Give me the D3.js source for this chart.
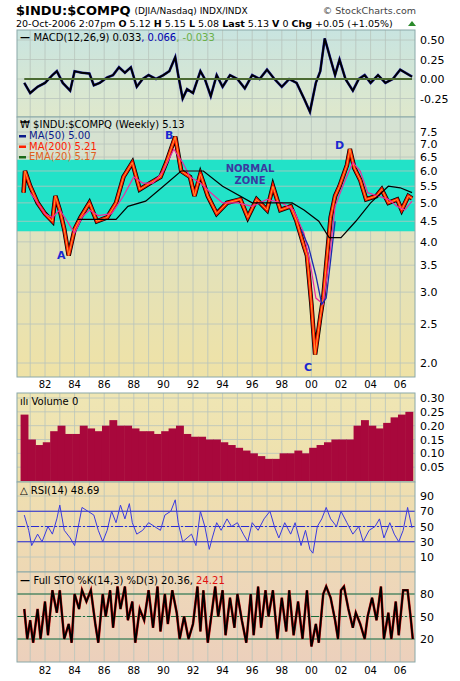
<!DOCTYPE html><html><head><script src="https://cdn.jsdelivr.net/npm/d3@7"></script>
<style>body{margin:0;background:#fff}svg{font-family:Verdana,"DejaVu Sans",sans-serif}</style></head><body><svg id="c" width="460" height="681"></svg><script>
const yearTicks=["82","84","86","88","90","92","94","96","98","00","02","04","06"];
const price=[[1980.55,5.3],[1980.65,6.0],[1981.0,5.5],[1981.5,5.0],[1982.0,4.7],[1982.5,4.5],[1982.7,5.2],[1983.0,4.8],[1983.3,4.3],[1983.6,3.7],[1984.0,4.3],[1984.4,4.6],[1985.0,5.0],[1985.5,4.5],[1986.2,4.6],[1986.8,5.0],[1987.3,5.8],[1987.9,6.3],[1988.4,5.4],[1989.1,5.6],[1989.8,5.8],[1990.2,6.3],[1990.8,7.3],[1991.2,6.0],[1991.8,5.8],[1992.1,5.2],[1992.5,5.9],[1993.0,5.2],[1993.6,4.7],[1994.3,5.0],[1995.2,5.1],[1995.7,4.6],[1996.3,5.1],[1997.0,4.8],[1997.4,5.5],[1997.9,4.8],[1998.6,4.9],[1999.0,4.5],[1999.5,3.9],[1999.7,3.7],[2000.0,2.8],[2000.25,2.1],[2000.6,2.6],[2000.8,2.9],[2001.0,3.5],[2001.3,4.6],[2001.6,5.2],[2001.9,5.5],[2002.4,6.2],[2002.6,6.8],[2002.9,6.1],[2003.3,5.7],[2003.7,5.1],[2004.4,5.2],[2004.75,5.4],[2005.2,5.0],[2005.8,5.1],[2006.1,4.8],[2006.55,5.2],[2006.8,5.13]];
const maLong=[[1984.2,4.55],[1986.8,4.55],[1987.6,4.9],[1988.8,5.05],[1990.0,5.5],[1991.2,6.0],[1992.7,6.0],[1994.0,5.5],[1996.0,5.0],[1998.7,5.0],[1999.5,4.8],[2000.5,4.5],[2001.2,4.1],[2002.0,4.1],[2003.0,4.5],[2004.0,5.0],[2005.2,5.5],[2006.0,5.45],[2006.8,5.3]];
const maMid=[[1981.0,5.3],[1981.5,5.0],[1982.0,4.7],[1982.5,4.6],[1983.0,4.8],[1983.5,4.5],[1984.0,4.2],[1984.5,4.6],[1985.0,4.8],[1985.6,4.65],[1986.5,4.7],[1987.3,5.2],[1988.0,5.8],[1988.6,5.6],[1989.3,5.6],[1990.0,6.0],[1990.7,6.8],[1991.3,6.3],[1991.8,5.8],[1992.5,5.6],[1993.2,5.3],[1994.0,5.0],[1995.0,5.0],[1996.0,4.9],[1997.0,5.1],[1998.0,5.0],[1998.8,4.8],[1999.5,4.2],[2000.0,3.4],[2000.3,2.9],[2000.8,2.8],[2001.2,3.6],[2001.6,4.9],[2002.2,5.6],[2002.8,6.3],[2003.3,6.0],[2003.8,5.3],[2004.5,5.2],[2005.2,5.1],[2005.8,4.9],[2006.3,4.8],[2006.8,5.05]];
const maBlue=[[1999.3,4.3],[1999.8,3.9],[2000.3,3.3],[2000.7,2.8],[2001.0,2.9],[2001.3,3.6],[2001.6,4.5]];
const macd=[[1980.6,-0.05],[1981.0,-0.18],[1981.5,-0.1],[1982,-0.05],[1982.5,0.05],[1982.8,0.1],[1983.2,-0.05],[1983.7,-0.15],[1984,0.1],[1984.5,0.08],[1985,0.07],[1985.3,-0.08],[1985.7,-0.05],[1986.2,0.02],[1986.6,0.05],[1987.0,0.15],[1987.4,0.08],[1987.8,0.15],[1988.2,-0.1],[1988.6,0.0],[1989,0.05],[1989.5,0.0],[1990,0.05],[1990.4,0.1],[1990.8,0.28],[1991.0,0.05],[1991.3,-0.25],[1991.6,-0.13],[1992.0,-0.18],[1992.5,0.1],[1992.8,0.0],[1993.2,-0.22],[1993.6,0.05],[1994,-0.1],[1994.5,0.05],[1995,0.0],[1995.5,-0.12],[1996,0.05],[1996.5,0.0],[1997,0.12],[1997.5,0.0],[1998,-0.1],[1998.5,0.0],[1999,-0.05],[1999.5,-0.25],[1999.9,-0.42],[2000.3,-0.05],[2000.6,0.1],[2000.9,0.52],[2001.3,0.25],[2001.6,0.05],[2001.9,0.25],[2002.3,0.0],[2002.8,-0.15],[2003.2,0.0],[2003.6,0.05],[2004,-0.05],[2004.5,0.05],[2005,-0.05],[2005.5,0.0],[2006,0.12],[2006.8,0.03]];
const volume=[0.24,0.15,0.13,0.14,0.18,0.2,0.17,0.17,0.2,0.19,0.18,0.2,0.22,0.2,0.2,0.19,0.18,0.18,0.17,0.18,0.19,0.2,0.17,0.16,0.16,0.15,0.15,0.14,0.13,0.12,0.11,0.1,0.09,0.08,0.08,0.1,0.1,0.11,0.1,0.12,0.13,0.14,0.15,0.15,0.15,0.2,0.22,0.2,0.19,0.21,0.23,0.24,0.25];
const rsi=[[1980.6,65],[1980.9,45],[1981.1,25],[1981.5,40],[1981.8,30],[1982.2,50],[1982.5,40],[1982.8,60],[1983.0,78],[1983.3,45],[1983.7,35],[1984.0,25],[1984.3,55],[1984.5,75],[1984.9,70],[1985.3,65],[1985.6,45],[1985.9,30],[1986.2,45],[1986.5,70],[1986.8,55],[1987.1,78],[1987.4,60],[1987.7,80],[1987.9,55],[1988.2,40],[1988.6,45],[1989.0,55],[1989.4,50],[1989.8,45],[1990.1,65],[1990.5,70],[1990.8,85],[1991.0,55],[1991.3,30],[1991.6,35],[1991.9,40],[1992.2,25],[1992.5,70],[1992.8,50],[1993.1,20],[1993.3,35],[1993.6,55],[1993.9,45],[1994.3,60],[1994.6,50],[1995.0,55],[1995.4,40],[1995.7,30],[1996.0,55],[1996.4,45],[1996.8,60],[1997.2,70],[1997.5,50],[1997.8,35],[1998.2,55],[1998.6,40],[1998.9,55],[1999.3,25],[1999.6,45],[1999.9,20],[2000.1,15],[2000.4,50],[2000.7,60],[2001.0,75],[2001.3,60],[2001.7,50],[2002.0,70],[2002.4,55],[2002.8,40],[2003.2,50],[2003.5,30],[2003.9,45],[2004.3,50],[2004.6,60],[2004.9,35],[2005.3,55],[2005.6,40],[2005.9,30],[2006.2,45],[2006.5,75],[2006.8,48]];
const sto=[[1980.6,60],[1980.8,20],[1981.0,45],[1981.2,15],[1981.5,60],[1981.7,20],[1982.0,70],[1982.2,25],[1982.5,85],[1982.8,55],[1983.0,85],[1983.3,20],[1983.6,40],[1983.8,15],[1984.0,80],[1984.3,60],[1984.5,85],[1984.8,70],[1985.1,85],[1985.4,40],[1985.6,15],[1985.9,80],[1986.1,50],[1986.4,85],[1986.6,35],[1986.9,90],[1987.1,60],[1987.4,90],[1987.6,45],[1987.9,70],[1988.1,15],[1988.4,60],[1988.7,45],[1989.0,85],[1989.3,35],[1989.6,90],[1989.8,30],[1990.1,80],[1990.3,40],[1990.6,85],[1990.9,55],[1991.1,20],[1991.4,50],[1991.7,20],[1992.0,40],[1992.3,90],[1992.5,30],[1992.7,85],[1993.0,15],[1993.2,45],[1993.5,90],[1993.7,50],[1994.0,85],[1994.2,25],[1994.5,75],[1994.8,35],[1995.0,80],[1995.3,45],[1995.6,15],[1995.9,80],[1996.1,25],[1996.4,90],[1996.6,35],[1996.9,85],[1997.1,50],[1997.4,85],[1997.7,20],[1998.0,75],[1998.3,30],[1998.5,85],[1998.8,25],[1999.1,70],[1999.4,20],[1999.7,85],[2000.0,10],[2000.3,40],[2000.5,15],[2000.8,80],[2001.0,90],[2001.3,75],[2001.6,45],[2001.8,20],[2002.0,85],[2002.2,90],[2002.5,60],[2002.8,35],[2003.0,55],[2003.3,40],[2003.6,20],[2003.8,50],[2004.1,75],[2004.4,45],[2004.7,90],[2004.9,20],[2005.2,55],[2005.4,20],[2005.7,70],[2005.9,25],[2006.2,85],[2006.5,85],[2006.7,50],[2006.85,20]];

const svg=d3.select("#c");
const L=17,R=415;
const x=d3.scaleLinear([1980,2007],[15.4,415]);
const defs=svg.append("defs");
function grad(id,c1,c2){const g=defs.append("linearGradient").attr("id",id).attr("x1",0).attr("y1",0).attr("x2",0).attr("y2",1);g.append("stop").attr("offset",0).attr("stop-color",c1);g.append("stop").attr("offset",1).attr("stop-color",c2);}
grad("gM","#c8e4e0","#dfe8cc");grad("gP","#d4e2d4","#efe2a6");grad("gV","#efe6b4","#eedfac");grad("gR","#efdfb0","#eed8b4");grad("gS","#eed8b8","#ecd0bc");
function panel(t,b,fill){svg.append("rect").attr("x",L).attr("y",t).attr("width",R-L).attr("height",b-t).attr("fill",`url(#${fill})`);
 const g=svg.append("g");for(let yr=1981;yr<=2006;yr++)g.append("line").attr("x1",x(yr)).attr("x2",x(yr)).attr("y1",t).attr("y2",b).attr("stroke","#b8c4bc").attr("stroke-width",0.8);return g;}
function border(t,b){svg.append("rect").attr("x",L).attr("y",t).attr("width",R-L).attr("height",b-t).attr("fill","none").attr("stroke","#8aa8a8");}
function yaxis(sc,ticks,fmt,t,b){ticks.forEach(v=>{svg.append("line").attr("x1",L).attr("x2",R).attr("y1",sc(v)).attr("y2",sc(v)).attr("stroke","#b8c4bc").attr("stroke-width",0.8);
 svg.append("text").attr("x",420).attr("y",sc(v)+4).attr("font-size",11).text(fmt(v));});}
const clipId=(t,b,id)=>{defs.append("clipPath").attr("id",id).append("rect").attr("x",L).attr("y",t).attr("width",R-L).attr("height",b-t);return `url(#${id})`;};
const line=(sc)=>d3.line().x(d=>x(d[0])).y(d=>sc(d[1]));

// header
const t1=svg.append("text").attr("x",16).attr("y",15).attr("font-size",13).attr("font-weight","bold").text("$INDU:$COMPQ");
const w1=t1.node().getComputedTextLength();
svg.append("text").attr("x",16+w1+4).attr("y",14).attr("font-size",9).text("(DJIA/Nasdaq)  INDX/INDX");
svg.append("text").attr("x",416).attr("y",14).attr("font-size",9.5).attr("text-anchor","end").attr("fill","#444").text("© StockCharts.com");
const h=svg.append("text").attr("x",16).attr("y",27).attr("font-size",9.5);
[["20-Oct-2006 2:07pm  ",0],["O",1],[" 5.12  ",0],["H",1],[" 5.15  ",0],["L",1],[" 5.08  ",0],["Last",1],[" 5.13  ",0],["V",1],[" 0  ",0],["Chg",1],[" +0.05 (+1.05%)",0]].forEach(([s,b])=>h.append("tspan").attr("font-weight",b?"bold":"normal").text(s));
svg.append("path").attr("d","M408,26 L412,21 L416,26Z").attr("fill","#2a8a2a");

// MACD
const mT=30,mB=117;const ym=d3.scaleLinear([0,0.5],[79,40]);
panel(mT,mB,"gM");yaxis(ym,[0.5,0.25,0,-0.25],d=>d.toFixed(2),mT,mB);
const cm=clipId(mT,mB,"cm");
svg.append("path").datum(macd).attr("clip-path",cm).attr("d",line(ym)).attr("fill","none").attr("stroke","#2020a0").attr("stroke-width",2.6);
svg.append("path").datum(macd).attr("clip-path",cm).attr("d",line(ym)).attr("fill","none").attr("stroke","#000").attr("stroke-width",1.8);
svg.append("line").attr("x1",x(1980.6)).attr("x2",x(2006.8)).attr("y1",ym(0)).attr("y2",ym(0)).attr("stroke","#4a6a30").attr("stroke-width",2);
border(mT,mB);
const mt=svg.append("text").attr("x",20).attr("y",41).attr("font-size",10);
mt.append("tspan").attr("font-weight","bold").text("— ");mt.append("tspan").text("MACD(12,26,9) 0.033");mt.append("tspan").attr("fill","#0000b0").text(", 0.066");mt.append("tspan").attr("fill","#6ab04a").text(", -0.033");

// Price
const pT=117,pB=377;const yp=d3.scaleLog([2,7.5],[363,132]);
panel(pT,pB,"gP");
svg.append("rect").attr("x",L).attr("y",yp(6.4)).attr("width",R-L).attr("height",yp(4.25)-yp(6.4)).attr("fill","#22e2c8");
yaxis(yp,[7.5,7,6.5,6,5.5,5,4.5,4,3.5,3,2.5,2],d=>d.toFixed(1),pT,pB);
const cp=clipId(pT,pB,"cp");
svg.append("path").datum(price).attr("clip-path",cp).attr("d",line(yp)).attr("fill","none").attr("stroke","#000").attr("stroke-width",4.5);
svg.append("path").datum(price).attr("clip-path",cp).attr("d",line(yp)).attr("fill","none").attr("stroke","#ff1a00").attr("stroke-width",3);
svg.append("path").datum(price).attr("clip-path",cp).attr("d",line(yp)).attr("fill","none").attr("stroke","#ff9a30").attr("stroke-width",1);
svg.append("path").datum(maMid).attr("clip-path",cp).attr("d",line(yp)).attr("fill","none").attr("stroke","#ee2aa0").attr("stroke-width",1.2);
svg.append("path").datum(maBlue).attr("clip-path",cp).attr("d",line(yp)).attr("fill","none").attr("stroke","#1a2ab0").attr("stroke-width",1.3);
svg.append("path").datum(maLong).attr("clip-path",cp).attr("d",line(yp)).attr("fill","none").attr("stroke","#000").attr("stroke-width",1.2);
border(pT,pB);
svg.append("text").attr("x",20).attr("y",128).attr("font-size",10).text("₩ $INDU:$COMPQ (Weekly) 5.13");
[["MA(50) 5.00","#0b1a8a"],["MA(200) 5.21","#ff2000"],["EMA(20) 5.17","#1a6a1a"]].forEach(([s,c],i)=>{
 svg.append("rect").attr("x",19).attr("y",135+i*10.5).attr("width",7).attr("height",2.5).attr("fill",c);
 svg.append("text").attr("x",29).attr("y",139+i*10.5).attr("font-size",10).attr("fill",i==1?"#ff2000":i==2?"#e06020":"#0b1a8a").text(s);});
[["A",57,259],["B",165,139],["C",304,371],["D",335,149]].forEach(([s,a,b])=>svg.append("text").attr("x",a).attr("y",b).attr("font-size",11).attr("font-weight","bold").attr("fill","#1a28d0").text(s));
svg.append("text").attr("x",250).attr("y",172).attr("text-anchor","middle").attr("font-size",10).attr("font-weight","bold").attr("fill","#3a3aa0").text("NORMAL");
svg.append("text").attr("x",250).attr("y",184).attr("text-anchor","middle").attr("font-size",10).attr("font-weight","bold").attr("fill","#3a3aa0").text("ZONE");
yearTicks.forEach((t,i)=>svg.append("text").attr("x",x(1982+2*i)).attr("y",388).attr("text-anchor","middle").attr("font-size",10).text(t));

// Volume
const vT=393,vB=482;const yv=d3.scaleLinear([0,0.3],[481,398]);
panel(vT,vB,"gV");yaxis(yv,[0.3,0.25,0.2,0.15,0.1,0.05],d=>d.toFixed(2),vT,vB);
const vx=d3.scaleLinear([0,volume.length-1],[1980.6,2006.6]);const bw=x(vx(1))-x(vx(0));
svg.selectAll(".vb").data(volume).join("rect").attr("x",(d,i)=>x(vx(i))-bw/2).attr("width",bw+0.5).attr("y",d=>yv(d)).attr("height",d=>yv(0)-yv(d)).attr("fill","#a8083c");
border(vT,vB);
svg.append("text").attr("x",20).attr("y",405).attr("font-size",10).text("ılı Volume 0");

// RSI
const rT=482,rB=572;const yr=d3.scaleLinear([10,90],[557,496]);
panel(rT,rB,"gR");yaxis(yr,[90,70,50,30,10],d=>d,rT,rB);
[70,30].forEach(v=>svg.append("line").attr("x1",L).attr("x2",R).attr("y1",yr(v)).attr("y2",yr(v)).attr("stroke","#2a2ad0").attr("stroke-width",1.2));
svg.append("line").attr("x1",L).attr("x2",R).attr("y1",yr(50)).attr("y2",yr(50)).attr("stroke","#2a2ad0").attr("stroke-dasharray","8,2,2,2");
svg.append("path").datum(rsi).attr("d",line(yr)).attr("fill","none").attr("stroke","#3a3ae0").attr("stroke-width",1);
border(rT,rB);
svg.append("text").attr("x",20).attr("y",494).attr("font-size",10).text("△ RSI(14) 48.69");

// STO
const sT=572,sB=662;const ys=d3.scaleLinear([20,80],[639,594]);
panel(sT,sB,"gS");yaxis(ys,[80,50,20],d=>d,sT,sB);
[80,20].forEach(v=>svg.append("line").attr("x1",L).attr("x2",R).attr("y1",ys(v)).attr("y2",ys(v)).attr("stroke","#1a6a3a").attr("stroke-width",1.2));
svg.append("line").attr("x1",L).attr("x2",R).attr("y1",ys(50)).attr("y2",ys(50)).attr("stroke","#1a6a3a").attr("stroke-dasharray","8,2,2,2");
svg.append("path").datum(sto).attr("d",line(ys)).attr("fill","none").attr("stroke","#d01010").attr("stroke-width",2.6);
svg.append("path").datum(sto).attr("d",line(ys)).attr("fill","none").attr("stroke","#000").attr("stroke-width",1.8);
border(sT,sB);
const st=svg.append("text").attr("x",20).attr("y",584).attr("font-size",10);
st.append("tspan").attr("font-weight","bold").text("— ");st.append("tspan").text("Full STO %K(14,3) %D(3) 20.36, ");st.append("tspan").attr("fill","#e01010").text("24.21");
yearTicks.forEach((t,i)=>svg.append("text").attr("x",x(1982+2*i)).attr("y",674).attr("text-anchor","middle").attr("font-size",10).text(t));
</script></body></html>
